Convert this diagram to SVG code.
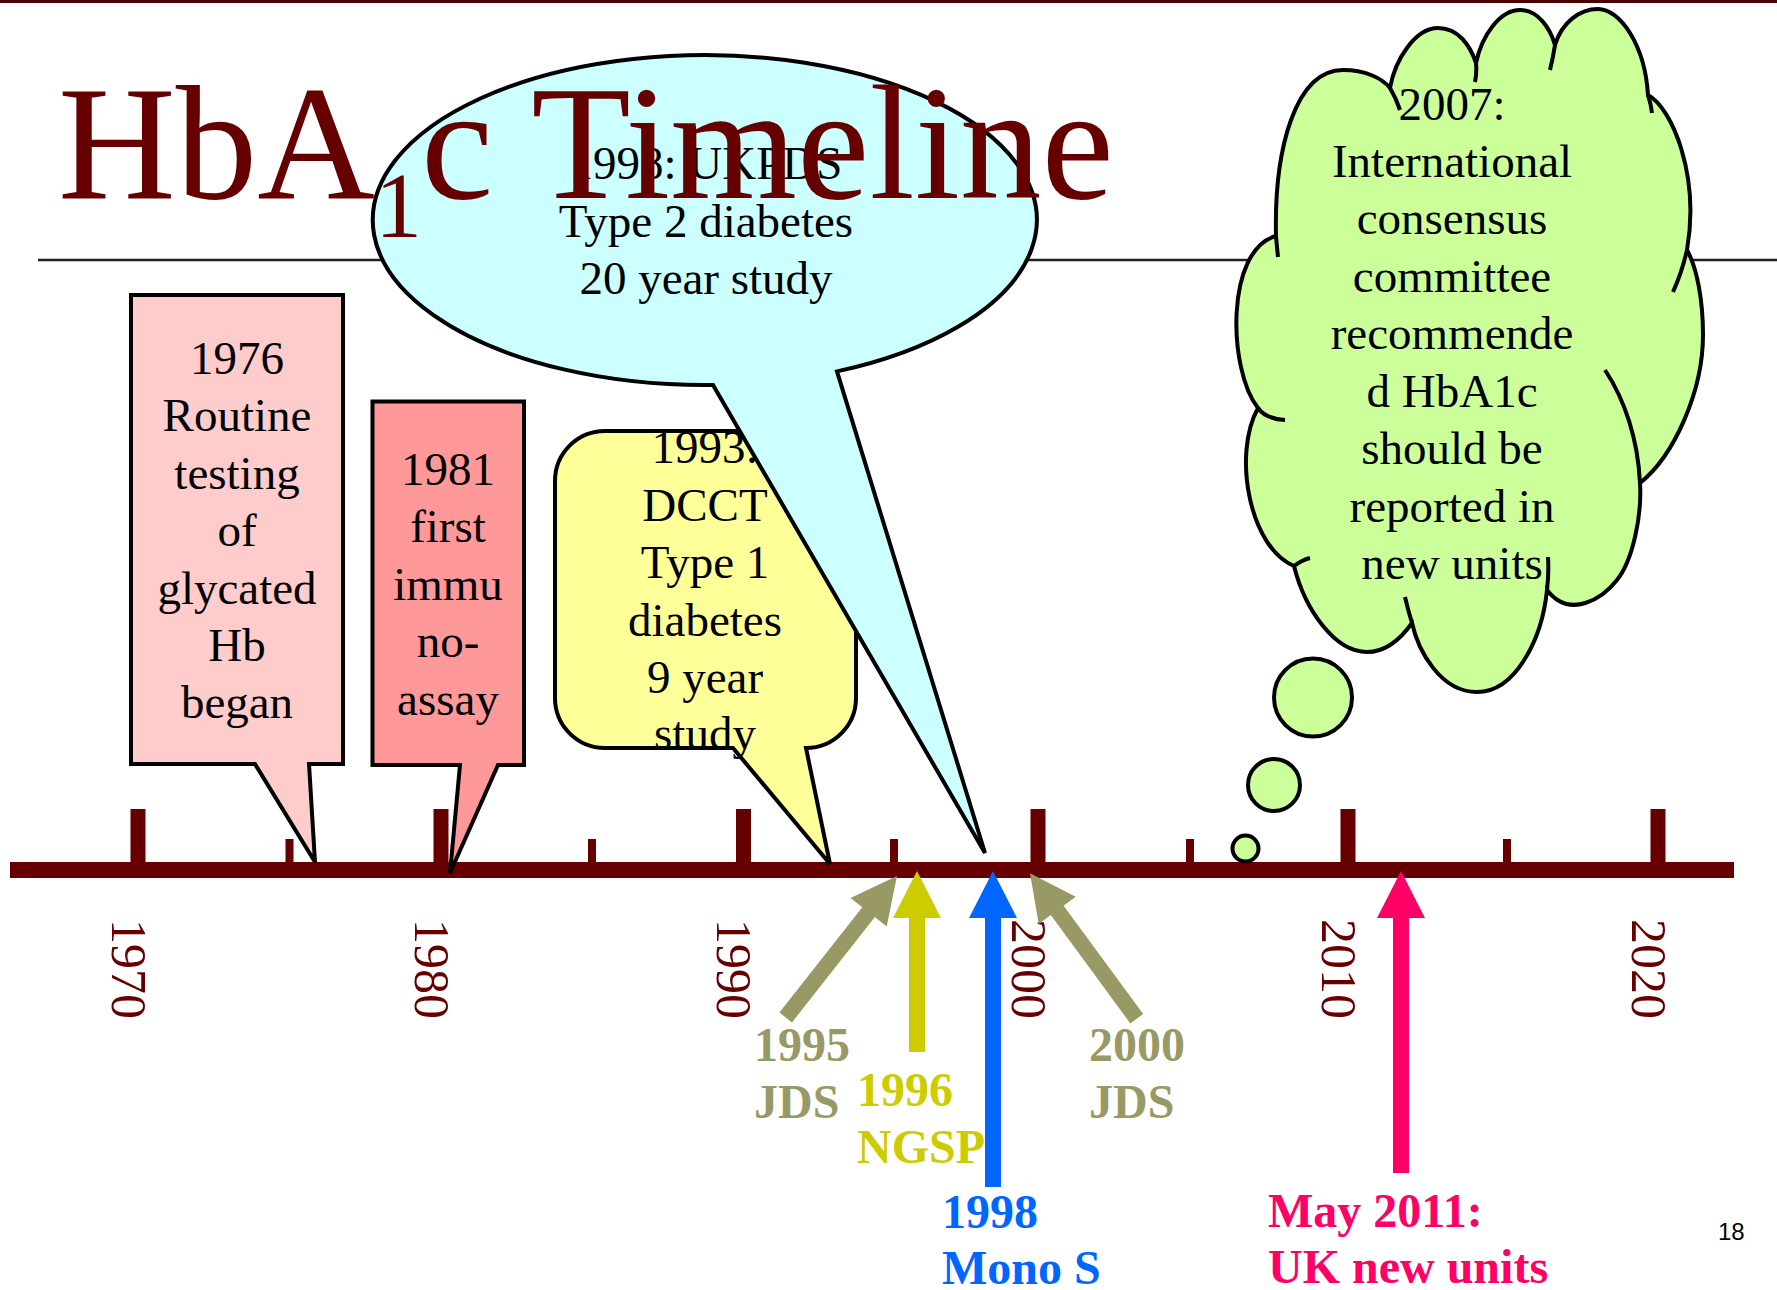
<svg xmlns="http://www.w3.org/2000/svg" width="1777" height="1290" viewBox="0 0 1777 1290">
<style>
.t{font-family:"Liberation Serif","Times New Roman",serif;font-size:47px;fill:#000;text-anchor:middle}
.yr{font-family:"Liberation Serif","Times New Roman",serif;font-size:50px;fill:#660000}
.lb{font-family:"Liberation Serif","Times New Roman",serif;font-size:48px;font-weight:bold}
.sh{stroke:#000;stroke-width:4;stroke-linejoin:miter}
.ax{fill:#660000}
</style>
<rect width="1777" height="1290" fill="#fff"/>
<rect x="0" y="0" width="1777" height="3" fill="#4a0000"/>
<line x1="38" y1="260" x2="1777" y2="260" stroke="#222" stroke-width="2.5"/>
<g id="axis">
<rect class="ax" x="10" y="862" width="1724" height="16"/>
<rect class="ax" x="130.5" y="809" width="15" height="53"/>
<rect class="ax" x="433.5" y="809" width="15" height="53"/>
<rect class="ax" x="736" y="809" width="15" height="53"/>
<rect class="ax" x="1030.5" y="809" width="15" height="53"/>
<rect class="ax" x="1340.5" y="809" width="15" height="53"/>
<rect class="ax" x="1650.5" y="809" width="15" height="53"/>
<rect class="ax" x="285.5" y="839" width="8" height="23"/>
<rect class="ax" x="588" y="839" width="8" height="23"/>
<rect class="ax" x="890" y="839" width="8" height="23"/>
<rect class="ax" x="1186" y="839" width="8" height="23"/>
<rect class="ax" x="1503" y="839" width="8" height="23"/>
<text class="yr" transform="translate(111.5,919) rotate(90)">1970</text>
<text class="yr" transform="translate(414.5,919) rotate(90)">1980</text>
<text class="yr" transform="translate(717,919) rotate(90)">1990</text>
<text class="yr" transform="translate(1011.5,919) rotate(90)">2000</text>
<text class="yr" transform="translate(1321.5,919) rotate(90)">2010</text>
<text class="yr" transform="translate(1631.5,919) rotate(90)">2020</text>
</g>
<g id="n1976">
<path class="sh" fill="#FFCCCC" d="M131,295 H343 V764 H309 L315,862 L255,764 H131 Z"/>
<text class="t" x="237" y="374">1976</text>
<text class="t" x="237" y="431">Routine</text>
<text class="t" x="237" y="488.5">testing</text>
<text class="t" x="237" y="546">of</text>
<text class="t" x="237" y="603.5">glycated</text>
<text class="t" x="237" y="661">Hb</text>
<text class="t" x="237" y="718">began</text>
</g>
<g id="n1981">
<path class="sh" fill="#FF9999" d="M372.5,401.5 H524 V765 H498 L450,873 L460,765 H372.5 Z"/>
<text class="t" x="448" y="485">1981</text>
<text class="t" x="448" y="542">first</text>
<text class="t" x="448" y="599.5">immu</text>
<text class="t" x="448" y="657">no-</text>
<text class="t" x="448" y="714.5">assay</text>
</g>
<g id="n1993">
<path class="sh" fill="#FFFF99" d="M605,431 H806 A50,50 0 0 1 856,481 V698 A50,50 0 0 1 806,748 L830,864 L733,748 H605 A50,50 0 0 1 555,698 V481 A50,50 0 0 1 605,431 Z"/>
<text class="t" x="705" y="463">1993:</text>
<text class="t" x="705" y="520.5">DCCT</text>
<text class="t" x="705" y="578">Type 1</text>
<text class="t" x="705" y="635.5">diabetes</text>
<text class="t" x="705" y="693">9 year</text>
<text class="t" x="705" y="749">study</text>
</g>
<g id="n1998ukpds">
<path class="sh" fill="#CCFFFF" d="M713,385 A332,165 0 1 1 837,371.4 L985,853 Z"/>
<text class="t" x="706" y="178.5">1998: UKPDS</text>
<text class="t" x="706" y="236.5">Type 2 diabetes</text>
<text class="t" x="706" y="294">20 year study</text>
</g>
<g id="title">
<text font-family="'Liberation Serif','Times New Roman',serif" font-size="163" fill="#660000" x="58" y="198">HbA<tspan font-size="94" y="237">1</tspan><tspan x="421" y="198">c Timeline</tspan></text>
</g>
<g id="n2007">
<path class="sh" fill="#CCFF99" d="M1276,236 C1274,150 1295,70 1343,70 C1365,70 1382,78 1390,88 C1395,60 1415,28 1438,28 C1458,28 1470,45 1476,63 C1482,35 1500,10 1520,10 C1538,10 1550,28 1555,45 C1562,22 1580,9 1598,9 C1620,9 1645,45 1648,95 C1672,108 1700,175 1687,250 C1697,268 1703,300 1703,335 C1703,390 1675,455 1640,483 C1642,515 1633,560 1617,580 C1603,598 1570,620 1547,590 C1542,640 1515,692 1477,692 C1440,692 1418,650 1412,623 C1400,640 1385,652 1367,652 C1335,652 1305,610 1294,566 C1250,548 1232,455 1258,408 C1228,370 1225,250 1276,236 Z"/>
<text class="t" x="1452" y="120">2007:</text>
<text class="t" x="1452" y="177">International</text>
<text class="t" x="1452" y="234">consensus</text>
<text class="t" x="1452" y="291.5">committee</text>
<text class="t" x="1452" y="349">recommende</text>
<text class="t" x="1452" y="406.5">d HbA1c</text>
<text class="t" x="1452" y="464">should be</text>
<text class="t" x="1452" y="521.5">reported in</text>
<text class="t" x="1452" y="579">new units</text>
<path class="sh" fill="none" d="M1276,236 Q1277,248 1278,257 M1390,88 Q1396,98 1400,110 M1476,63 Q1477,72 1475,82 M1555,45 Q1553,58 1550,70 M1648,95 Q1651,104 1652,113 M1687,250 Q1682,272 1673,292 M1258,408 Q1266,419 1285,420 M1294,566 Q1302,560 1310,558 M1412,623 Q1408,610 1405,597 M1547,590 Q1549,573 1548,557 M1640,483 C1638,440 1625,400 1605,370"/>
<circle class="sh" fill="#CCFF99" cx="1313" cy="697.5" r="39"/>
<circle class="sh" fill="#CCFF99" cx="1274" cy="785" r="26"/>
<circle class="sh" fill="#CCFF99" cx="1245.5" cy="848.5" r="13"/>
</g>
<g id="connectors">
<polygon fill="#999966" points="897,876 886.7,926.4 874.9,917.1 792,1022.4 779.4,1012.6 862.3,907.3 850.5,898"/>
<polygon fill="#CCCC00" points="917,871 941,918 925,918 925,1052 909,1052 909,918 893,918"/>
<polygon fill="#0066FF" points="993,871 1017,918 1001,918 1001,1187 985,1187 985,918 969,918"/>
<polygon fill="#999966" points="1030,873.3 1075.7,896.8 1063.6,905.7 1143.2,1013.9 1130.3,1023.4 1050.8,915.1 1038.7,924"/>
<polygon fill="#FF0066" points="1401,871 1425,918 1409,918 1409,1173 1393,1173 1393,918 1377,918"/>
</g>
<g id="l1995" class="lb" fill="#999966">
<text x="754" y="1061">1995</text>
<text x="754" y="1118">JDS</text>
</g>
<g id="l1996" class="lb" fill="#CCCC00">
<text x="857" y="1106">1996</text>
<text x="857" y="1163">NGSP</text>
</g>
<g id="l1998" class="lb" fill="#0066FF">
<text x="942" y="1228">1998</text>
<text x="942" y="1284">Mono S</text>
</g>
<g id="l2000" class="lb" fill="#999966">
<text x="1089" y="1061">2000</text>
<text x="1089" y="1118">JDS</text>
</g>
<g id="l2011" class="lb" fill="#FF0066">
<text x="1268" y="1227">May 2011:</text>
<text x="1268" y="1283">UK new units</text>
</g>
<text x="1718" y="1240" font-family="'Liberation Sans',Arial,sans-serif" font-size="24" fill="#000">18</text>
</svg>
